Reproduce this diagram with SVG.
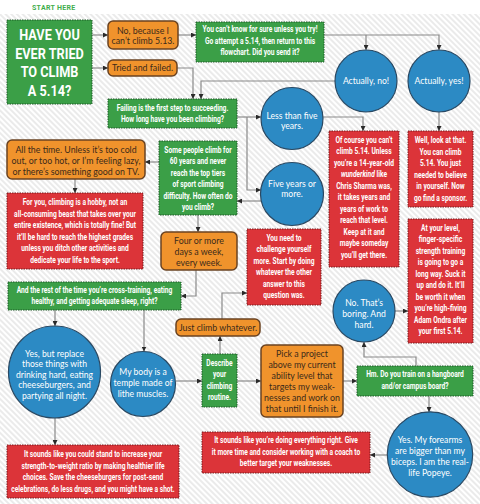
<svg xmlns="http://www.w3.org/2000/svg" width="480" height="504" viewBox="0 0 480 504">
<defs>
<pattern id="hatch" width="4" height="4" patternUnits="userSpaceOnUse" patternTransform="rotate(45)"><line x1="0" y1="2" x2="4" y2="2" stroke="#d6d6d6" stroke-width="1"/></pattern>
<marker id="ah" viewBox="0 0 6 6" refX="6" refY="3" markerWidth="5" markerHeight="5" markerUnits="userSpaceOnUse" orient="auto"><path d="M0,0 L6,3 L0,6 z" fill="#2a2a2a"/></marker>
<style>
.g{fill:#3b9f47;stroke:#1d5b27;stroke-width:1;stroke-dasharray:1.5 1}
.r{fill:#dc3439;stroke:#7a181c;stroke-width:1;stroke-dasharray:1.5 1}
.o{fill:#f0932c;stroke:#6a4322;stroke-width:1.5}
.b{fill:#2c8ac4;stroke:#2a4963;stroke-width:1.2}
.tt{font-family:Roboto,'Liberation Sans',sans-serif;font-weight:700;font-size:15.5px;fill:#fff;text-anchor:middle}
.ct{font-family:Roboto,'Liberation Sans',sans-serif;font-weight:700;font-size:9.5px;fill:#fff;text-anchor:middle}
.ot{font-family:Lato,'Open Sans',sans-serif;font-size:8.8px;fill:#3b2a1a;text-anchor:middle}
.bt{font-family:Lato,'Open Sans',sans-serif;font-size:8.6px;fill:#fff;text-anchor:middle}
.cn{fill:none;stroke:#8a8a8a;stroke-width:1.2;marker-end:url(#ah)}
.sh{font-family:Roboto,'Liberation Sans',sans-serif;font-weight:700;font-size:7px;fill:#3fae4c;letter-spacing:0.3px}
</style>
</defs>
<rect x="0" y="0" width="480" height="504" fill="#fff"/>
<rect x="0" y="14" width="480" height="490" fill="url(#hatch)"/>
<text class="sh" x="32" y="10">START HERE</text>

<g id="connectors">
<path class="cn" d="M92,35 H108"/>
<path class="cn" d="M92,68 H108"/>
<path class="cn" d="M178,35 H196"/>
<path class="cn" d="M324,35 H439 V50"/>
<path class="cn" d="M366,35 V50"/>
<path class="cn" d="M177,68 H193 V99"/>
<path class="cn" d="M335,81 H201 V99"/>
<path class="cn" d="M237,117 H261"/>
<path class="cn" d="M247,117 V190 H261"/>
<path class="cn" d="M323,117 H363 V131"/>
<path class="cn" d="M439,112 V131"/>
<path class="cn" d="M261,201 H237"/>
<path class="cn" d="M159,162 H145"/>
<path class="cn" d="M75,179 V193"/>
<path class="cn" d="M198,215 V232"/>
<path class="cn" d="M196,270 V296 H181"/>
<path class="cn" d="M55,310 V326"/>
<path class="cn" d="M144,310 V351.5"/>
<path class="cn" d="M55,418 V445"/>
<path class="cn" d="M176,381 H202"/>
<path class="cn" d="M220,354 V336"/>
<path class="cn" d="M222,319 V293 H247"/>
<path class="cn" d="M237,381 H261"/>
<path class="cn" d="M343,381 H357"/>
<path class="cn" d="M416,366 V357 H364 V342"/>
<path class="cn" d="M395,311 H408"/>
<path class="cn" d="M429,396 V412"/>
<path class="cn" d="M387,455 H370"/>
</g>

<g id="n-title"><rect class="g" x="7" y="20" width="85" height="84"/>
<text class="tt" transform="matrix(0.82 0 0 1 49.5 0)"><tspan x="0" y="40.5">HAVE YOU</tspan><tspan x="0" y="59">EVER TRIED</tspan><tspan x="0" y="77.5">TO CLIMB</tspan><tspan x="0" y="96">A 5.14?</tspan></text></g>

<g id="n-no-513"><rect class="o" x="108" y="21" width="70" height="28" rx="5"/>
<text class="ot"><tspan x="143" y="33.5">No, because I</tspan><tspan x="143" y="44">can’t climb 5.13.</tspan></text></g>

<g id="n-tried"><rect class="o" x="108" y="60" width="69" height="16" rx="5"/>
<text class="ot" x="142.5" y="71">Tried and failed.</text></g>

<g id="n-you-cant-know"><rect class="g" x="196" y="22" width="128" height="40"/>
<text class="ct" transform="matrix(0.7 0 0 1 260 0)"><tspan x="0" y="32.5">You can’t know for sure unless you try!</tspan><tspan x="0" y="44">Go attempt a 5.14, then return to this</tspan><tspan x="0" y="55.5">flowchart. Did you send it?</tspan></text></g>

<g id="n-actually-no"><circle class="b" cx="366" cy="81" r="31"/>
<text class="bt" x="366" y="84">Actually, no!</text></g>

<g id="n-actually-yes"><circle class="b" cx="439" cy="81" r="31"/>
<text class="bt" x="439" y="84">Actually, yes!</text></g>

<g id="n-failing"><rect class="g" x="108" y="99" width="129" height="29"/>
<text class="ct" transform="matrix(0.7 0 0 1 172.5 0)"><tspan x="0" y="111.5">Failing is the first step to succeeding.</tspan><tspan x="0" y="122.5">How long have you been climbing?</tspan></text></g>

<g id="n-less-five"><circle class="b" cx="292" cy="118.5" r="31"/>
<text class="bt"><tspan x="292" y="118.5">Less than five</tspan><tspan x="292" y="129">years.</tspan></text></g>

<g id="n-five-more"><circle class="b" cx="292" cy="194" r="31.5"/>
<text class="bt"><tspan x="292" y="186.5">Five years or</tspan><tspan x="292" y="197">more.</tspan></text></g>

<g id="n-of-course"><rect class="r" x="329" y="131" width="70" height="136"/>
<text class="ct" transform="matrix(0.7 0 0 1 364 0)"><tspan x="0" y="143">Of course you can’t</tspan><tspan x="0" y="154.5">climb 5.14. Unless</tspan><tspan x="0" y="166">you’re a 14-year-old</tspan><tspan x="0" y="177.5"><tspan font-style="italic">wunderkind</tspan> like</tspan><tspan x="0" y="189">Chris Sharma was,</tspan><tspan x="0" y="200.5">it takes years and</tspan><tspan x="0" y="212">years of work to</tspan><tspan x="0" y="223.5">reach that level.</tspan><tspan x="0" y="235">Keep at it and</tspan><tspan x="0" y="246.5">maybe someday</tspan><tspan x="0" y="258">you’ll get there.</tspan></text></g>

<g id="n-well-look"><rect class="r" x="408" y="131" width="65" height="76"/>
<text class="ct" transform="matrix(0.7 0 0 1 440.5 0)"><tspan x="0" y="143.5">Well, look at that.</tspan><tspan x="0" y="155">You can climb</tspan><tspan x="0" y="166.5">5.14. You just</tspan><tspan x="0" y="178">needed to believe</tspan><tspan x="0" y="189.5">in yourself. Now</tspan><tspan x="0" y="201">go find a sponsor.</tspan></text></g>

<g id="n-some-people"><rect class="g" x="159" y="141" width="78" height="74"/>
<text class="ct" transform="matrix(0.7 0 0 1 198 0)"><tspan x="0" y="153">Some people climb for</tspan><tspan x="0" y="164.5">60 years and never</tspan><tspan x="0" y="176">reach the top tiers</tspan><tspan x="0" y="187.5">of sport climbing</tspan><tspan x="0" y="199">difficulty. How often do</tspan><tspan x="0" y="210.5">you climb?</tspan></text></g>

<g id="n-all-time"><rect class="o" x="7" y="140" width="138" height="39" rx="5"/>
<text class="ot"><tspan x="76" y="152.5">All the time. Unless it’s too cold</tspan><tspan x="76" y="163.5">out, or too hot, or I’m feeling lazy,</tspan><tspan x="76" y="174.5">or there’s something good on TV.</tspan></text></g>

<g id="n-for-you"><rect class="r" x="7" y="193" width="136" height="76"/>
<text class="ct" transform="matrix(0.7 0 0 1 75 0)"><tspan x="0" y="205.5">For you, climbing is a hobby, not an</tspan><tspan x="0" y="217">all-consuming beast that takes over your</tspan><tspan x="0" y="228.5">entire existence, which is totally fine! But</tspan><tspan x="0" y="240">it’ll be hard to reach the highest grades</tspan><tspan x="0" y="251.5">unless you ditch other activities and</tspan><tspan x="0" y="263">dedicate your life to the sport.</tspan></text></g>

<g id="n-four-more"><rect class="o" x="161" y="232" width="76" height="38" rx="5"/>
<text class="ot"><tspan x="199" y="243.5">Four or more</tspan><tspan x="199" y="254.5">days a week,</tspan><tspan x="199" y="265.5">every week.</tspan></text></g>

<g id="n-you-need"><rect class="r" x="247" y="229" width="74" height="76"/>
<text class="ct" transform="matrix(0.7 0 0 1 284 0)"><tspan x="0" y="241">You need to</tspan><tspan x="0" y="252.5">challenge yourself</tspan><tspan x="0" y="264">more. Start by doing</tspan><tspan x="0" y="275.5">whatever the other</tspan><tspan x="0" y="287">answer to this</tspan><tspan x="0" y="298.5">question was.</tspan></text></g>

<g id="n-at-your-level"><rect class="r" x="408" y="219" width="65" height="124"/>
<text class="ct" transform="matrix(0.7 0 0 1 440.5 0)"><tspan x="0" y="231">At your level,</tspan><tspan x="0" y="242.5">finger-specific</tspan><tspan x="0" y="254">strength training</tspan><tspan x="0" y="265.5">is going to go a</tspan><tspan x="0" y="277">long way. Suck it</tspan><tspan x="0" y="288.5">up and do it. It’ll</tspan><tspan x="0" y="300">be worth it when</tspan><tspan x="0" y="311.5">you’re high-fiving</tspan><tspan x="0" y="323">Adam Ondra after</tspan><tspan x="0" y="334.5">your first 5.14.</tspan></text></g>

<g id="n-and-rest"><rect class="g" x="8" y="282" width="173" height="28"/>
<text class="ct" transform="matrix(0.7 0 0 1 94.5 0)"><tspan x="0" y="293">And the rest of the time you’re cross-training, eating</tspan><tspan x="0" y="304.5">healthy, and getting adequate sleep, right?</tspan></text></g>

<g id="n-no-boring"><circle class="b" cx="364" cy="311" r="31"/>
<text class="bt"><tspan x="364" y="306">No. That’s</tspan><tspan x="364" y="317">boring. And</tspan><tspan x="364" y="327.5">hard.</tspan></text></g>

<g id="n-just-climb"><rect class="o" x="176" y="319" width="84" height="17" rx="5"/>
<text class="ot" x="218" y="331">Just climb whatever.</text></g>

<g id="n-yes-replace"><circle class="b" cx="54.5" cy="372" r="46"/>
<text class="bt"><tspan x="54.5" y="356.5">Yes, but replace</tspan><tspan x="54.5" y="367">those things with</tspan><tspan x="54.5" y="377.5">drinking hard, eating</tspan><tspan x="54.5" y="388">cheeseburgers, and</tspan><tspan x="54.5" y="398.5">partying all night.</tspan></text></g>

<g id="n-my-body"><circle class="b" cx="143" cy="384" r="32.5"/>
<text class="bt"><tspan x="143" y="374.5">My body is a</tspan><tspan x="143" y="385.5">temple made of</tspan><tspan x="143" y="396.5">lithe muscles.</tspan></text></g>

<g id="n-describe"><rect class="g" x="202" y="354" width="35" height="53"/>
<text class="ct" transform="matrix(0.7 0 0 1 219.5 0)"><tspan x="0" y="366">Describe</tspan><tspan x="0" y="377.5">your</tspan><tspan x="0" y="389">climbing</tspan><tspan x="0" y="400.5">routine.</tspan></text></g>

<g id="n-pick"><rect class="o" x="261" y="345" width="82" height="72" rx="5"/>
<text class="ot"><tspan x="302" y="356.5">Pick a project</tspan><tspan x="302" y="367.5">above my current</tspan><tspan x="302" y="378.5">ability level that</tspan><tspan x="302" y="389.5">targets my weak-</tspan><tspan x="302" y="400.5">nesses and work on</tspan><tspan x="302" y="411.5">that until I finish it.</tspan></text></g>

<g id="n-hm"><rect class="g" x="357" y="366" width="116" height="30"/>
<text class="ct" transform="matrix(0.7 0 0 1 415 0)"><tspan x="0" y="377.5">Hm. Do you train on a hangboard</tspan><tspan x="0" y="389">and/or campus board?</tspan></text></g>

<g id="n-yes-forearms"><circle class="b" cx="430" cy="454.5" r="42.7"/>
<text class="bt"><tspan x="430" y="443">Yes. My forearms</tspan><tspan x="430" y="454">are bigger than my</tspan><tspan x="430" y="465">biceps. I am the real-</tspan><tspan x="430" y="476">life Popeye.</tspan></text></g>

<g id="n-doing-right"><rect class="r" x="202" y="432" width="168" height="41"/>
<text class="ct" transform="matrix(0.7 0 0 1 286 0)"><tspan x="0" y="443.5">It sounds like you’re doing everything right. Give</tspan><tspan x="0" y="455">it more time and consider working with a coach to</tspan><tspan x="0" y="466.5">better target your weaknesses.</tspan></text></g>

<g id="n-it-sounds"><rect class="r" x="7" y="445" width="172" height="53"/>
<text class="ct" transform="matrix(0.7 0 0 1 93 0)"><tspan x="0" y="457.5">It sounds like you could stand to increase your</tspan><tspan x="0" y="469">strength-to-weight ratio by making healthier life</tspan><tspan x="0" y="480.5">choices. Save the cheeseburgers for post-send</tspan><tspan x="0" y="492">celebrations, do less drugs, and you might have a shot.</tspan></text></g>
</svg>
